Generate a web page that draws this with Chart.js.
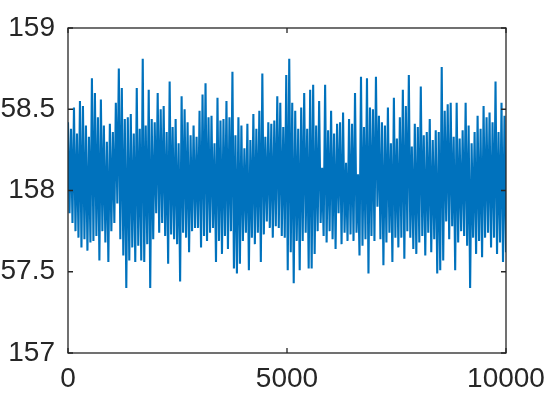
<!DOCTYPE html>
<html>
<head>
<meta charset="utf-8">
<script src="https://cdn.jsdelivr.net/npm/chart.js@4/dist/chart.umd.min.js"></script>
<style>
    html, body { margin: 0; padding: 0; background: #fff; overflow: hidden; width: 560px; height: 420px; }
    #grafico { position: absolute; left: -20px; top: 0; }
</style>
</head>
<body>
<canvas id="grafico" width="600" height="420"></canvas>
<script>
// Marcas de los ejes
const ticksX = [0, 5000, 10000];
const ticksY = [157, 157.5, 158, 158.5, 159];

// Envolvente superior de la señal (un valor por cada ~3 px de la figura)
const picosAltos = [
    158.42, 158.38, 158.51, 158.35, 158.55, 158.52, 158.40, 158.33, 158.69, 158.60, 158.45, 158.56, 158.40, 158.30, 158.41, 158.36, 158.54, 158.75, 158.63, 158.44, 158.45, 158.47, 158.35, 158.63, 158.38,
    158.81, 158.40, 158.62, 158.44, 158.42, 158.60, 158.50, 158.52, 158.36, 158.67, 158.39, 158.44, 158.29, 158.58, 158.50, 158.42, 158.34, 158.40, 158.33, 158.49, 158.59, 158.66, 158.45, 158.46, 158.29,
    158.57, 158.43, 158.44, 158.55, 158.45, 158.73, 158.34, 158.45, 158.40, 158.26, 158.41, 158.31, 158.47, 158.38, 158.49, 158.72, 158.33, 158.42, 158.41, 158.43, 158.58, 158.54, 158.39, 158.71, 158.81,
    158.54, 158.49, 158.38, 158.51, 158.60, 158.38, 158.62, 158.65, 158.40, 158.55, 158.14, 158.65, 158.37, 158.49, 158.35, 158.41, 158.42, 158.48, 158.17, 158.44, 158.41, 158.60, 158.10, 158.70, 158.39,
    158.69, 158.51, 158.50, 158.70, 158.46, 158.42, 158.40, 158.51, 158.29, 158.57, 158.32, 158.45, 158.62, 158.52, 158.71, 158.27, 158.41, 158.39, 158.64, 158.34, 158.36, 158.44, 158.31, 158.37, 158.36,
    158.76, 158.49, 158.53, 158.54, 158.33, 158.54, 158.32, 158.37, 158.54, 158.40, 158.29, 158.36, 158.46, 158.38, 158.52, 158.45, 158.48, 158.42, 158.67, 158.36, 158.54, 158.46
];

// Envolvente inferior de la señal
const picosBajos = [
    157.86, 157.80, 157.75, 157.71, 157.65, 157.70, 157.63, 157.68, 157.69, 157.72, 157.57, 157.75, 157.68, 157.56, 157.75, 157.80, 157.92, 157.70, 157.60, 157.40, 157.57, 157.65, 157.56, 157.66, 157.57,
    157.56, 157.67, 157.40, 157.70, 157.86, 157.74, 157.80, 157.72, 157.55, 157.73, 157.70, 157.67, 157.44, 157.74, 157.71, 157.62, 157.75, 157.77, 157.77, 157.65, 157.72, 157.69, 157.74, 157.77, 157.56,
    157.69, 157.61, 157.72, 157.64, 157.75, 157.52, 157.49, 157.55, 157.69, 157.74, 157.51, 157.71, 157.67, 157.74, 157.56, 157.73, 157.81, 157.77, 157.71, 157.78, 157.77, 157.72, 157.71, 157.51, 157.62,
    157.43, 157.69, 157.51, 157.69, 157.74, 157.52, 157.52, 157.61, 157.75, 157.80, 157.72, 157.68, 157.75, 157.70, 157.64, 157.86, 157.67, 157.74, 157.69, 157.73, 157.69, 157.74, 157.60, 157.66, 157.70,
    157.49, 157.72, 157.69, 157.90, 157.70, 157.54, 157.68, 157.74, 157.56, 157.71, 157.65, 157.71, 157.58, 157.75, 157.71, 157.64, 157.61, 157.68, 157.72, 157.60, 157.74, 157.62, 157.70, 157.49, 157.51,
    157.57, 157.81, 157.70, 157.78, 157.51, 157.68, 157.75, 157.72, 157.66, 157.40, 157.71, 157.61, 157.69, 157.59, 157.71, 157.74, 157.65, 157.71, 157.61, 157.68, 157.56, 157.62
];

document.addEventListener('DOMContentLoaded', function () {
    const colorEjes = '#262626';
    const fuente = { family: '"Liberation Sans", Arial, sans-serif', size: 28 };

    // Intercalar alto/bajo para dibujar la banda de ruido
    const totalPuntos = picosAltos.length * 2 - 1;
    const puntos = [];
    picosAltos.forEach(function (alto, i) {
        puntos.push({ x: (2 * i) * 10000 / totalPuntos, y: alto });
        puntos.push({ x: (2 * i + 1) * 10000 / totalPuntos, y: picosBajos[i] });
    });

    // Caja completa con marcas hacia dentro (estilo MATLAB)
    const marcoEjes = {
        id: 'marcoEjes',
        afterDraw(chart) {
            const ctx = chart.ctx;
            const a = chart.chartArea;
            const x = chart.scales.x;
            const y = chart.scales.y;
            ctx.save();
            ctx.strokeStyle = colorEjes;
            ctx.lineWidth = 1.3;
            ctx.strokeRect(a.left, a.top, a.right - a.left, a.bottom - a.top);
            ctx.beginPath();
            ticksY.forEach(function (v) {
                const py = y.getPixelForValue(v);
                ctx.moveTo(a.left, py); ctx.lineTo(a.left + 5, py);
                ctx.moveTo(a.right, py); ctx.lineTo(a.right - 5, py);
            });
            ticksX.forEach(function (v) {
                const px = x.getPixelForValue(v);
                ctx.moveTo(px, a.bottom); ctx.lineTo(px, a.bottom - 5);
                ctx.moveTo(px, a.top); ctx.lineTo(px, a.top + 5);
            });
            ctx.stroke();
            ctx.restore();
        }
    };

    new Chart(document.getElementById('grafico'), {
        type: 'line',
        data: {
            datasets: [{
                data: puntos,
                borderColor: '#0072BD',
                borderWidth: 2.1,
                pointRadius: 0,
                tension: 0,
                fill: false
            }]
        },
        options: {
            responsive: false,
            animation: false,
            events: [],
            layout: { padding: { left: 0, right: 74, top: 28, bottom: 0 } },
            plugins: { legend: { display: false }, tooltip: { enabled: false } },
            scales: {
                x: {
                    type: 'linear',
                    min: 0,
                    max: 10000,
                    grid: { display: false, drawTicks: false },
                    border: { display: false },
                    afterBuildTicks: function (s) { s.ticks = ticksX.map(v => ({ value: v })); },
                    afterFit: function (s) { s.height = 67; s.paddingLeft = 0; s.paddingRight = 0; },
                    ticks: {
                        color: colorEjes,
                        font: fuente,
                        padding: 9,
                        maxRotation: 0,
                        autoSkip: false,
                        callback: v => String(v)
                    }
                },
                y: {
                    type: 'linear',
                    min: 157,
                    max: 159,
                    grid: { display: false, drawTicks: false },
                    border: { display: false },
                    afterBuildTicks: function (s) { s.ticks = ticksY.map(v => ({ value: v })); },
                    afterFit: function (s) { s.width = 88; s.paddingTop = 0; s.paddingBottom = 0; },
                    ticks: {
                        color: colorEjes,
                        font: fuente,
                        padding: 13,
                        autoSkip: false,
                        callback: v => String(v)
                    }
                }
            }
        },
        plugins: [marcoEjes]
    });
});
</script>
</body>
</html>
